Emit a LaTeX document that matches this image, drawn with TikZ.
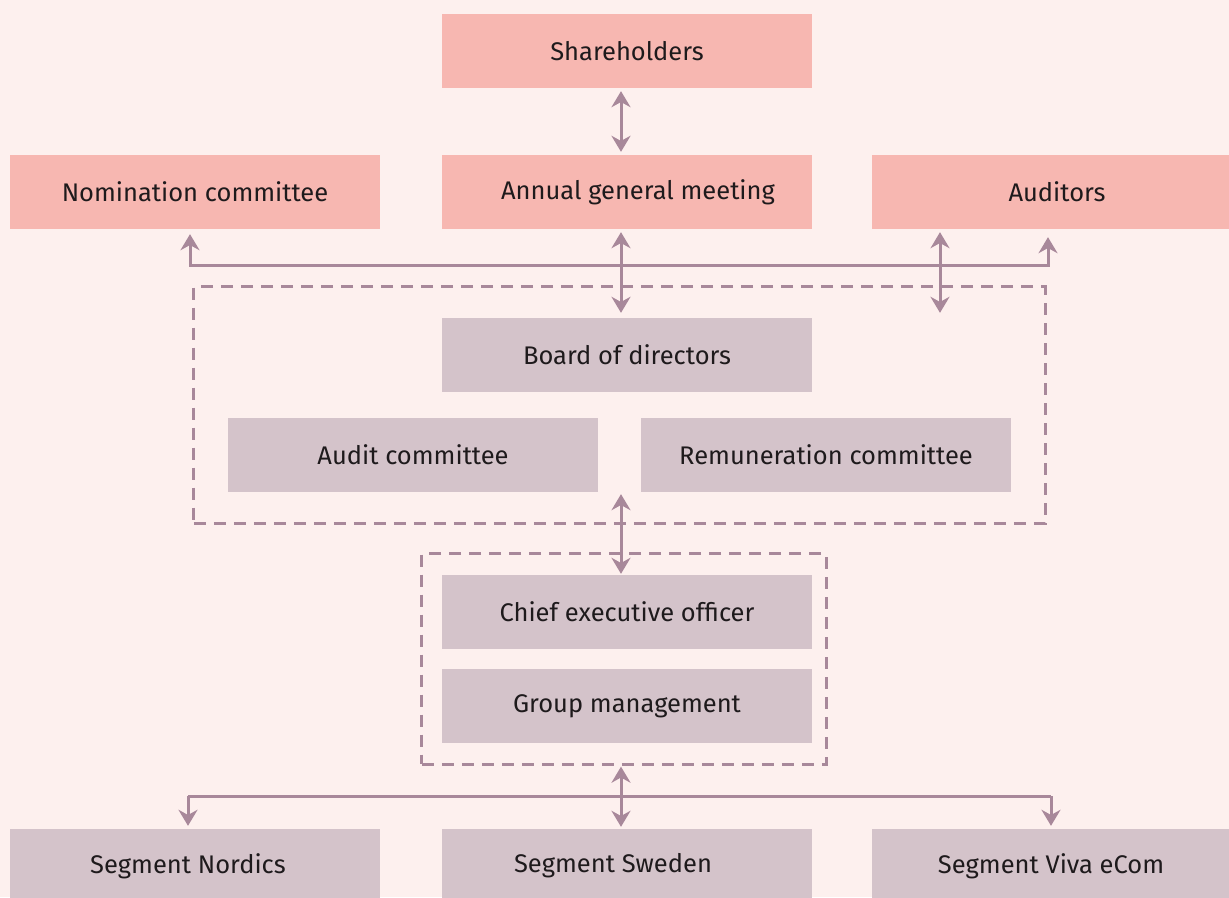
\documentclass[tikz,border=0pt]{standalone}
\usepackage{fontspec}
\setmainfont{Fira Sans}
\usetikzlibrary{arrows.meta,fit}
\definecolor{bgpink}{HTML}{FDF0EE}
\definecolor{boxpink}{HTML}{F7B7B1}
\definecolor{boxgrey}{HTML}{D4C3CA}
\definecolor{linkcol}{HTML}{A8889A}
\definecolor{textcol}{HTML}{1E1A1C}
\tikzset{
  owner/.style={fill=boxpink, minimum width=370pt, minimum height=74pt, inner sep=0pt, text=textcol, font=\fontsize{25.5}{30}\selectfont},
  staff/.style={owner, fill=boxgrey},
  link/.style={draw=linkcol, line width=3pt},
  both/.style={link, {Stealth[length=16pt,width=19pt]}-{Stealth[length=16pt,width=19pt]}},
  one/.style={link, -{Stealth[length=16pt,width=19pt]}},
  group/.style={draw=linkcol, line width=3pt, dash pattern=on 12pt off 8pt, inner sep=0pt}
}
\begin{document}
\begin{tikzpicture}[x=1pt, y=-1pt]
        \fill[bgpink] (0,0) rectangle (1229,897);
        \useasboundingbox (0,0) rectangle (1229,897);
        % owners
        \node[owner] (sh)  at (627,51)  {Shareholders};
        \node[owner] (nom) at (195,192) {Nomination committee};
        \node[owner] (agm) at (627,192) {\hspace*{22pt}Annual general meeting};
        \node[owner] (aud) at (1057,192) {Auditors};
        % board
        \node[staff] (board) at (627,355) {Board of directors};
        \node[staff] (audc)  at (413,455) {Audit committee};
        \node[staff] (remc)  at (826,455) {Remuneration committee};
        \node[group, fit=(board)(audc)(remc), inner xsep=34pt, inner ysep=31pt] (boardbox) {};
        % management
        \node[staff] (ceo) at (627,612) {Chief executive officer};
        \node[staff] (mgmt) at (627,706) {Group management};
        \node[group, fit=(ceo)(mgmt), inner xsep=17pt, inner ysep=21pt, xshift=-3pt] (mgmtbox) {};
        % segments
        \node[staff] (nordics) at (195,866) {Segment Nordics\hspace*{14pt}};
        \node[staff] (sweden)  at (627,866) {\raisebox{-4pt}{Segment Sweden}\hspace*{28pt}};
        \node[staff] (viva)    at (1057,866) {Segment Viva eCom\hspace*{12pt}};
        % connectors
        \coordinate (mid) at (621,0);
        \coordinate (hl) at (190,265);
        \coordinate (hr) at (1048,265);
        \coordinate (ax) at (940,0);
        \coordinate (bl) at (188,796);
        \coordinate (br) at (1051,796);
        \draw[both, shorten <=3pt, shorten >=3pt] (sh.south -| mid) -- (agm.north -| mid);
        \draw[both, shorten <=3pt, shorten >=5pt] (agm.south -| mid) -- (board.north -| mid);
        \draw[both, shorten <=5pt, shorten >=8pt] (nom.south -| hl) |- (hr) -- (aud.south -| hr);
        \draw[both, shorten <=3pt, shorten >=5pt] (aud.south -| ax) -- (board.north -| ax);
        \draw[both, shorten <=2pt, shorten >=1pt] (remc.south -| mid) -- (ceo.north -| mid);
        \draw[both, shorten <=1pt, shorten >=2pt] (mgmtbox.south -| mid) -- (sweden.north -| mid);
        \draw[link] (bl) -- (br);
        \draw[one, shorten >=3pt] (bl) -- (nordics.north -| bl);
        \draw[one, shorten >=3pt] (br) -- (viva.north -| br);
\end{tikzpicture}
\end{document}
